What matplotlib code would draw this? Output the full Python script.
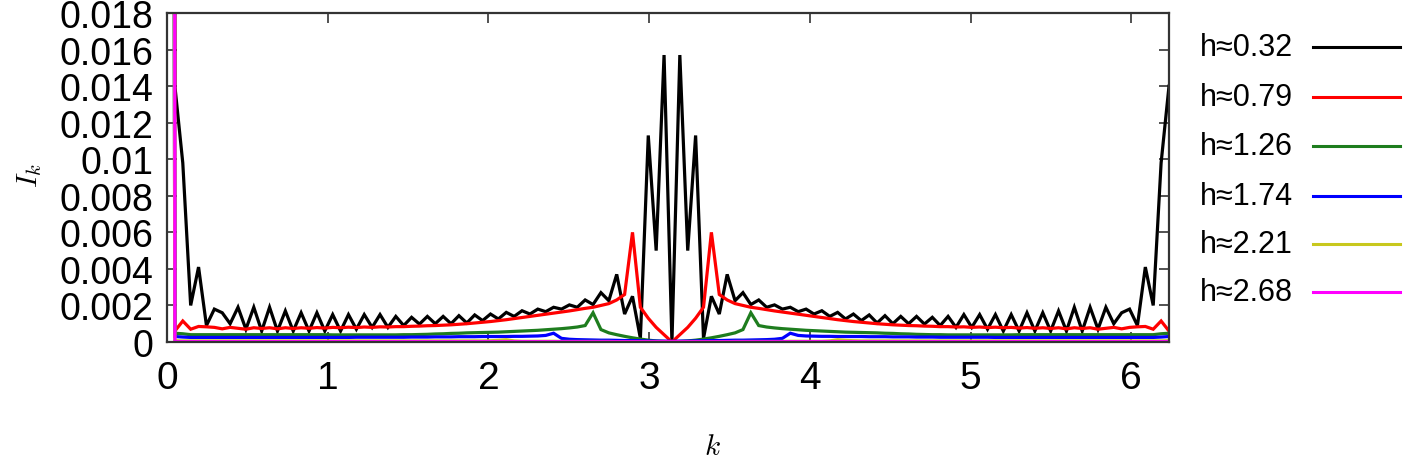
import matplotlib
matplotlib.use('Agg')
import matplotlib.pyplot as plt
from matplotlib.lines import Line2D
import numpy as np

plt.rcParams['font.family'] = ['Liberation Sans', 'DejaVu Sans']
plt.rcParams['mathtext.fontset'] = 'cm'

N = 128
n_index = np.arange(N)
k_values = 2 * np.pi * n_index / N

labels = ["h≈0.32", "h≈0.79", "h≈1.26", "h≈1.74", "h≈2.21", "h≈2.68"]
colors = ["#000000", "#ff0000", "#1e7d1e", "#0000ff", "#c8c81e", "#ff00ff"]

I_h032 = [
    0.5,
    0.0140, 0.0098, 0.0020, 0.0041, 0.0009, 0.0018, 0.0016, 0.0010, 0.0019, 0.0007,
    0.0019, 0.0006, 0.0019, 0.0006, 0.0017, 0.0006, 0.0016, 0.0006, 0.0016, 0.0006,
    0.0015, 0.0006, 0.0015, 0.0007, 0.0015, 0.0008, 0.0015, 0.0008, 0.0014, 0.0009,
    0.00135, 0.00098, 0.0014, 0.0010, 0.0014, 0.0010, 0.00144, 0.00104, 0.00148, 0.00117,
    0.00153, 0.00126, 0.00162, 0.0014, 0.00171, 0.00153, 0.0018, 0.00166, 0.0019, 0.0018,
    0.00203, 0.0019, 0.0023, 0.00205, 0.0027, 0.00226, 0.0037, 0.00153, 0.0025, 0.0002,
    0.0113, 0.0050, 0.0157, 0.0,
    0.0157, 0.0050, 0.0113,
    0.0002, 0.0025, 0.00153, 0.0037, 0.00226, 0.0027, 0.00205, 0.0023, 0.0019, 0.00203,
    0.0018, 0.0019, 0.00166, 0.0018, 0.00153, 0.00171, 0.0014, 0.00162, 0.00126, 0.00153,
    0.00117, 0.00148, 0.00104, 0.00144, 0.0010, 0.0014, 0.0010, 0.0014, 0.00098, 0.00135,
    0.0009, 0.0014, 0.0008, 0.0015, 0.0008, 0.0015, 0.0007, 0.0015, 0.0006, 0.0015,
    0.0006, 0.0016, 0.0006, 0.0016, 0.0006, 0.0017, 0.0006, 0.0019, 0.0006, 0.0019,
    0.0007, 0.0019, 0.0010, 0.0016, 0.0018, 0.0009, 0.0041, 0.0020, 0.0098, 0.0140,
]

I_h079 = [
    0.5,
    0.0006, 0.00115, 0.0007, 0.00085, 0.00083, 0.0008, 0.00072, 0.0008, 0.00075, 0.0007,
    0.00078, 0.00074, 0.00078, 0.00072, 0.00078, 0.00074, 0.00078, 0.00075, 0.00079, 0.00076,
    0.0008, 0.00078, 0.00081, 0.00079, 0.00082, 0.0008, 0.00083, 0.00082, 0.00084, 0.00084,
    0.00086, 0.00087, 0.00089, 0.0009, 0.00092, 0.00094, 0.00097, 0.001, 0.00104, 0.00108,
    0.00112, 0.00117, 0.00122, 0.00128, 0.00134, 0.0014, 0.00146, 0.00152, 0.00158, 0.00164,
    0.0017, 0.00177, 0.00184, 0.0019, 0.002, 0.0021, 0.0023, 0.0026, 0.0060, 0.0019,
    0.0013, 0.0008, 0.0004, 0.0,
    0.0004, 0.0008, 0.0013,
    0.0019, 0.0060, 0.0026, 0.0023, 0.0021, 0.002, 0.0019, 0.00184, 0.00177, 0.0017,
    0.00164, 0.00158, 0.00152, 0.00146, 0.0014, 0.00134, 0.00128, 0.00122, 0.00117, 0.00112,
    0.00108, 0.00104, 0.001, 0.00097, 0.00094, 0.00092, 0.0009, 0.00089, 0.00087, 0.00086,
    0.00084, 0.00084, 0.00082, 0.00083, 0.0008, 0.00082, 0.00079, 0.00081, 0.00078, 0.0008,
    0.00076, 0.00079, 0.00075, 0.00078, 0.00074, 0.00078, 0.00072, 0.00078, 0.00074, 0.00078,
    0.0007, 0.00075, 0.0008, 0.00072, 0.0008, 0.00083, 0.00085, 0.0007, 0.00115, 0.0006,
]

I_h126 = [
    0.3,
    0.00048, 0.00045, 0.0004, 0.0004, 0.0004, 0.0004, 0.0004, 0.0004, 0.0004, 0.0004,
    0.0004, 0.0004, 0.0004, 0.0004, 0.0004, 0.0004, 0.0004, 0.0004, 0.0004, 0.0004,
    0.00039, 0.00039, 0.00039, 0.00039, 0.00039, 0.00039, 0.00039, 0.00039, 0.00039, 0.0004,
    0.0004, 0.00041, 0.00042, 0.00044, 0.00045, 0.00047, 0.00048, 0.0005, 0.00051, 0.00052,
    0.00053, 0.00054, 0.00056, 0.00058, 0.0006, 0.00062, 0.00064, 0.00067, 0.0007, 0.00073,
    0.00077, 0.00082, 0.0009, 0.0016, 0.00068, 0.0005, 0.0004, 0.00031, 0.00023, 0.00016,
    0.0001, 0.00006, 0.00003, 0.0,
    0.00003, 0.00006, 0.0001,
    0.00016, 0.00023, 0.00031, 0.0004, 0.0005, 0.00068, 0.0016, 0.0009, 0.00082, 0.00077,
    0.00073, 0.0007, 0.00067, 0.00064, 0.00062, 0.0006, 0.00058, 0.00056, 0.00054, 0.00053,
    0.00052, 0.00051, 0.0005, 0.00048, 0.00047, 0.00045, 0.00044, 0.00042, 0.00041, 0.0004,
    0.0004, 0.00039, 0.00039, 0.00039, 0.00039, 0.00039, 0.00039, 0.00039, 0.00039, 0.00039,
    0.0004, 0.0004, 0.0004, 0.0004, 0.0004, 0.0004, 0.0004, 0.0004, 0.0004, 0.0004,
    0.0004, 0.0004, 0.0004, 0.0004, 0.0004, 0.0004, 0.0004, 0.0004, 0.00045, 0.00048,
]

I_h174 = [
    0.2,
    0.0003, 0.00027, 0.00025, 0.00025, 0.00025, 0.00025, 0.00025, 0.00025, 0.00025, 0.00025,
    0.00025, 0.00025, 0.00025, 0.00025, 0.00025, 0.00025, 0.00025, 0.00025, 0.00025, 0.00025,
    0.00025, 0.00025, 0.00025, 0.00026, 0.00026, 0.00026, 0.00026, 0.00026, 0.00026, 0.00026,
    0.00027, 0.00027, 0.00027, 0.00028, 0.00028, 0.00028, 0.00029, 0.00029, 0.00029, 0.0003,
    0.0003, 0.0003, 0.0003, 0.00031, 0.00031, 0.00032, 0.00033, 0.00036, 0.00048, 0.0002,
    0.00015, 0.00013, 0.00012, 0.00011, 0.0001, 0.0001, 0.00009, 0.00008, 0.00008, 0.00007,
    0.00006, 0.00005, 0.00005, 0.00004,
    0.00005, 0.00005, 0.00006,
    0.00007, 0.00008, 0.00008, 0.00009, 0.0001, 0.0001, 0.00011, 0.00012, 0.00013, 0.00015,
    0.0002, 0.00048, 0.00036, 0.00033, 0.00032, 0.00031, 0.00031, 0.0003, 0.0003, 0.0003,
    0.0003, 0.00029, 0.00029, 0.00029, 0.00028, 0.00028, 0.00028, 0.00027, 0.00027, 0.00027,
    0.00026, 0.00026, 0.00026, 0.00026, 0.00026, 0.00026, 0.00026, 0.00025, 0.00025, 0.00025,
    0.00025, 0.00025, 0.00025, 0.00025, 0.00025, 0.00025, 0.00025, 0.00025, 0.00025, 0.00025,
    0.00025, 0.00025, 0.00025, 0.00025, 0.00025, 0.00025, 0.00025, 0.00025, 0.00027, 0.0003,
]

I_h221 = [
    0.2,
    0.00007, 0.00006, 0.00006, 0.00006, 0.00006, 0.00006, 0.00006, 0.00006, 0.00006, 0.00006,
    0.00006, 0.00006, 0.00006, 0.00006, 0.00006, 0.00006, 0.00006, 0.00006, 0.00006, 0.00006,
    0.00006, 0.00006, 0.00006, 0.00006, 0.00006, 0.00006, 0.00006, 0.00006, 0.00006, 0.00006,
    0.00006, 0.00006, 0.00006, 0.00006, 0.00006, 0.00006, 0.00006, 0.00006, 0.00006, 0.00006,
    0.00007, 0.00009, 0.00012, 0.00006, 0.00004, 0.00004, 0.00004, 0.00004, 0.00004, 0.00003,
    0.00003, 0.00003, 0.00003, 0.00003, 0.00003, 0.00003, 0.00002, 0.00002, 0.00002, 0.00002,
    0.00002, 0.00002, 0.00002, 0.00002,
    0.00002, 0.00002, 0.00002,
    0.00002, 0.00002, 0.00002, 0.00002, 0.00003, 0.00003, 0.00003, 0.00003, 0.00003, 0.00003,
    0.00003, 0.00004, 0.00004, 0.00004, 0.00004, 0.00004, 0.00006, 0.00012, 0.00009, 0.00007,
    0.00006, 0.00006, 0.00006, 0.00006, 0.00006, 0.00006, 0.00006, 0.00006, 0.00006, 0.00006,
    0.00006, 0.00006, 0.00006, 0.00006, 0.00006, 0.00006, 0.00006, 0.00006, 0.00006, 0.00006,
    0.00006, 0.00006, 0.00006, 0.00006, 0.00006, 0.00006, 0.00006, 0.00006, 0.00006, 0.00006,
    0.00006, 0.00006, 0.00006, 0.00006, 0.00006, 0.00006, 0.00006, 0.00006, 0.00006, 0.00007,
]

I_h268 = [
    1.0,
    0.00002, 0.00002, 0.00002, 0.00002, 0.00002, 0.00002, 0.00002, 0.00002, 0.00002, 0.00002,
    0.00002, 0.00002, 0.00002, 0.00002, 0.00002, 0.00002, 0.00002, 0.00002, 0.00002, 0.00002,
    0.00002, 0.00002, 0.00002, 0.00002, 0.00002, 0.00002, 0.00002, 0.00002, 0.00002, 0.00002,
    0.00002, 0.00002, 0.00002, 0.00002, 0.00002, 0.00002, 0.00002, 0.00002, 0.00002, 0.00002,
    0.00002, 0.00002, 0.00002, 0.00002, 0.00002, 0.00002, 0.00002, 0.00002, 0.00002, 0.00002,
    0.00002, 0.00002, 0.00002, 0.00002, 0.00002, 0.00002, 0.00002, 0.00002, 0.00002, 0.00002,
    0.00002, 0.00002, 0.00002, 0.00002,
    0.00002, 0.00002, 0.00002,
    0.00002, 0.00002, 0.00002, 0.00002, 0.00002, 0.00002, 0.00002, 0.00002, 0.00002, 0.00002,
    0.00002, 0.00002, 0.00002, 0.00002, 0.00002, 0.00002, 0.00002, 0.00002, 0.00002, 0.00002,
    0.00002, 0.00002, 0.00002, 0.00002, 0.00002, 0.00002, 0.00002, 0.00002, 0.00002, 0.00002,
    0.00002, 0.00002, 0.00002, 0.00002, 0.00002, 0.00002, 0.00002, 0.00002, 0.00002, 0.00002,
    0.00002, 0.00002, 0.00002, 0.00002, 0.00002, 0.00002, 0.00002, 0.00002, 0.00002, 0.00002,
    0.00002, 0.00002, 0.00002, 0.00002, 0.00002, 0.00002, 0.00002, 0.00002, 0.00002, 0.00002,
]

series = [I_h032, I_h079, I_h126, I_h174, I_h221, I_h268]

x_ticks = [0, 1, 2, 3, 4, 5, 6]
y_ticks = [0, 0.002, 0.004, 0.006, 0.008, 0.01, 0.012, 0.014, 0.016, 0.018]
y_tick_labels = ["0", "0.002", "0.004", "0.006", "0.008", "0.01", "0.012", "0.014", "0.016", "0.018"]

W, H = 1408, 460
fig = plt.figure(figsize=(W / 100, H / 100), dpi=100)
ax = fig.add_axes([167 / W, 1 - 343 / H, (1169 - 167) / W, (343 - 14) / H])

for vals, col in zip(series, colors):
    ax.plot(k_values, vals, color=col, lw=2.3, solid_joinstyle='miter')

ax.set_xlim(0, k_values[-1])
ax.set_ylim(0, 0.018)
ax.set_xticks(x_ticks)
ax.set_xticklabels([str(t) for t in x_ticks])
ax.set_yticks(y_ticks)
ax.set_yticklabels(y_tick_labels)
ax.tick_params(direction='in', length=7, width=1.2, top=True, right=True,
               labelsize=27, color='#333333')
ax.tick_params(axis='x', pad=13, labelsize=28)
ax.tick_params(axis='y', pad=10)
for sp in ax.spines.values():
    sp.set_linewidth(1.6)
    sp.set_color('#333333')

fig.text(30 / W, 1 - 175 / H, r'$I_k$', rotation=90, ha='center', va='center', fontsize=21)
fig.text(712 / W, 1 - 447 / H, r'$k$', ha='center', va='center', fontsize=21)

leg_y = [48, 98, 147, 197, 245, 293]
for lab, col, yy in zip(labels, colors, leg_y):
    fig.text(1200 / W, 1 - yy / H, lab, ha='left', va='center', fontsize=22)
    fig.add_artist(Line2D([1313 / W, 1400 / W], [1 - yy / H, 1 - yy / H], color=col, lw=2.2))

fig.savefig('out.png', dpi=100)
